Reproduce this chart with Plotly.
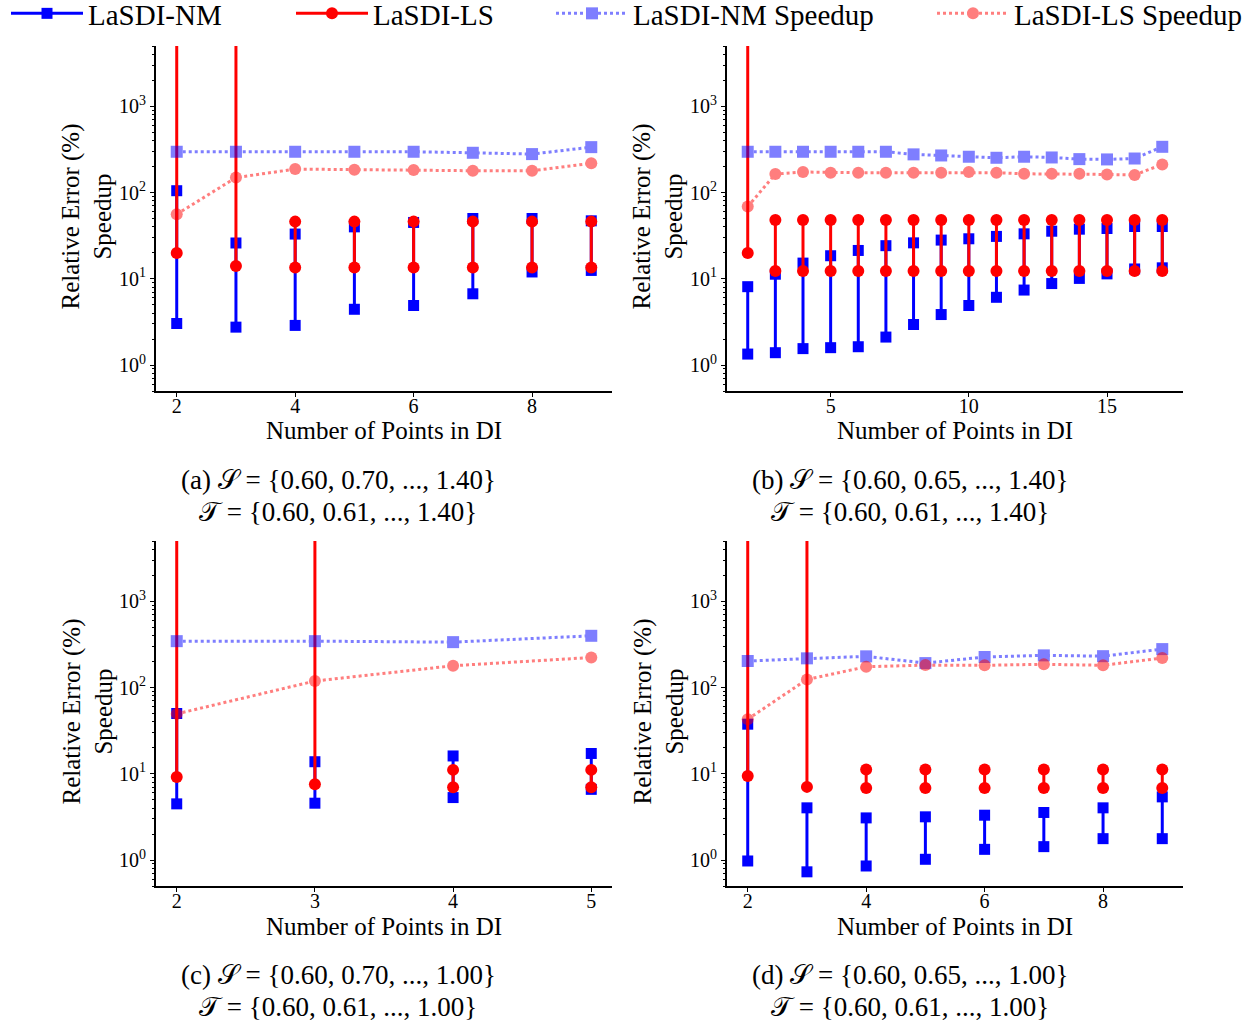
import plotly.graph_objects as go

# ---------------- data ----------------
# Panel (a)
a_x = [2, 3, 4, 5, 6, 7, 8, 9]
a_nm_lo = [3.03, 2.75, 2.88, 4.43, 4.9, 6.7, 12.0, 12.5]
a_nm_hi = [105, 26, 33, 40, 45, 50, 50, 47]
a_ls_lo = [19.9, 14.1, 13.5, 13.5, 13.5, 13.5, 13.5, 13.5]
a_ls_hi = [1e6, 1e6, 46, 46, 46, 46, 46, 46]
a_nm_sp = [297, 297, 297, 297, 297, 289, 279, 336]
a_ls_sp = [56, 149, 187, 184, 182, 179, 179, 218]

# Panel (b)
b_x = list(range(2, 18))
b_nm_lo = [1.34, 1.39, 1.55, 1.59, 1.63, 2.11, 2.95, 3.85, 4.9, 6.1, 7.4, 8.8, 10.1, 11.4, 13.0, 13.4]
b_nm_hi = [8.1, 11.3, 15.2, 18.5, 21.3, 24.2, 26.1, 28.1, 29.1, 31.0, 33.2, 35.6, 37.6, 38.3, 40.4, 40.4]
b_ls_lo = [19.9] + [12.3] * 15
b_ls_hi = [1e6] + [48] * 15
b_nm_sp = [297, 297, 297, 297, 297, 297, 277, 269, 260, 253, 260, 255, 244, 242, 248, 339]
b_ls_sp = [68.7, 164, 173, 170, 170, 170, 170, 170, 173, 170, 165, 165, 165, 162, 160, 212]

# Panel (c)
c_x = [2, 3, 4, 5]
c_nm_lo = [4.48, 4.56, 5.3, 6.6]
c_nm_hi = [50, 13.8, 16.1, 17.2]
c_ls_lo = [9.2, 7.55, 7.0, 7.0]
c_ls_hi = [1e6, 1e6, 11.1, 11.1]
c_nm_sp = [345, 345, 336, 398]
c_ls_sp = [49.5, 119, 179, 223]

# Panel (d)
d_x = [2, 3, 4, 5, 6, 7, 8, 9]
d_nm_lo = [0.975, 0.73, 0.853, 1.02, 1.33, 1.43, 1.77, 1.77]
d_nm_hi = [37.6, 4.03, 3.08, 3.17, 3.31, 3.56, 4.03, 5.4]
d_ls_lo = [9.44, 7.05, 6.86, 6.86, 6.86, 6.86, 6.86, 6.86]
d_ls_hi = [1e6, 1e6, 11.2, 11.2, 11.2, 11.2, 11.2, 11.2]
d_nm_sp = [203, 218, 230, 192, 226, 236, 231, 279]
d_ls_sp = [43, 124, 174, 182, 181, 186, 181, 220]

x_ticks = [[2, 4, 6, 8], [5, 10, 15], [2, 3, 4, 5], [2, 4, 6, 8]]
y_tickvals = [1, 10, 100, 1000]
y_ticktext = ["10<sup>0</sup>", "10<sup>1</sup>", "10<sup>2</sup>", "10<sup>3</sup>"]
captions = [
    ("(a) 𝒮 = {0.60, 0.70, ..., 1.40}", "𝒯 = {0.60, 0.61, ..., 1.40}"),
    ("(b) 𝒮 = {0.60, 0.65, ..., 1.40}", "𝒯 = {0.60, 0.61, ..., 1.40}"),
    ("(c) 𝒮 = {0.60, 0.70, ..., 1.00}", "𝒯 = {0.60, 0.61, ..., 1.00}"),
    ("(d) 𝒮 = {0.60, 0.65, ..., 1.00}", "𝒯 = {0.60, 0.61, ..., 1.00}"),
]
legend_names = ["LaSDI-NM", "LaSDI-LS", "LaSDI-NM Speedup", "LaSDI-LS Speedup"]

panels = [
    (a_x, a_nm_lo, a_nm_hi, a_ls_lo, a_ls_hi, a_nm_sp, a_ls_sp),
    (b_x, b_nm_lo, b_nm_hi, b_ls_lo, b_ls_hi, b_nm_sp, b_ls_sp),
    (c_x, c_nm_lo, c_nm_hi, c_ls_lo, c_ls_hi, c_nm_sp, c_ls_sp),
    (d_x, d_nm_lo, d_nm_hi, d_ls_lo, d_ls_hi, d_nm_sp, d_ls_sp),
]

# ---------------- layout geometry (pixels) ----------------
W, H = 1260, 1025
FONT = "Liberation Serif"
BLUE = "#0000ff"
RED = "#ff0000"

# left, right, top, bottom of each plot area
boxes = [(156, 612, 46, 391), (727, 1183, 46, 391),
         (156, 612, 541, 886), (727, 1183, 541, 886)]
cap_x = [338, 910, 338, 910]
legend_x = [6, 291, 551, 932]
legend_ids = ["legend", "legend2", "legend3", "legend4"]


def px(xp):
    return xp / W


def py(yp):
    return 1 - yp / H


def segments(xs, lo, hi):
    sx, sy = [], []
    for xv, l, h in zip(xs, lo, hi):
        sx += [xv, xv, None]
        sy += [l, h, None]
    return sx, sy


fig = go.Figure()

for i, (xs, nlo, nhi, llo, lhi, nsp, lsp) in enumerate(panels):
    k = "" if i == 0 else str(i + 1)
    xa, ya = "x" + k, "y" + k
    show = i == 0
    sx, sy = segments(xs, nlo, nhi)
    fig.add_trace(go.Scatter(x=sx, y=sy, mode="lines+markers", name=legend_names[0],
                             legendgroup="nm", showlegend=show, legend=legend_ids[0],
                             line=dict(color=BLUE, width=3),
                             marker=dict(symbol="square", size=11, color=BLUE),
                             xaxis=xa, yaxis=ya))
    sx, sy = segments(xs, llo, lhi)
    fig.add_trace(go.Scatter(x=sx, y=sy, mode="lines+markers", name=legend_names[1],
                             legendgroup="ls", showlegend=show, legend=legend_ids[1],
                             line=dict(color=RED, width=3),
                             marker=dict(symbol="circle", size=12, color=RED),
                             xaxis=xa, yaxis=ya))
    fig.add_trace(go.Scatter(x=xs, y=nsp, mode="lines+markers", name=legend_names[2],
                             legendgroup="nms", showlegend=show, opacity=0.5,
                             legend=legend_ids[2],
                             line=dict(color=BLUE, width=3, dash="dot"),
                             marker=dict(symbol="square", size=12, color=BLUE),
                             xaxis=xa, yaxis=ya))
    fig.add_trace(go.Scatter(x=xs, y=lsp, mode="lines+markers", name=legend_names[3],
                             legendgroup="lss", showlegend=show, opacity=0.5,
                             legend=legend_ids[3],
                             line=dict(color=RED, width=3, dash="dot"),
                             marker=dict(symbol="circle", size=12, color=RED),
                             xaxis=xa, yaxis=ya))

    l, r, t, b = boxes[i]
    xmin, xmax = min(xs), max(xs)
    pad = 0.05 * (xmax - xmin)
    axis_common = dict(showline=True, linecolor="black", linewidth=2, mirror=False,
                       showgrid=False, zeroline=False, ticks="outside", ticklen=4,
                       tickwidth=1.2, tickcolor="black",
                       tickfont=dict(family=FONT, size=20, color="black"))
    fig.update_layout(**{
        "xaxis" + k: dict(domain=[px(l), px(r)], range=[xmin - pad, xmax + pad],
                          tickvals=x_ticks[i], anchor=ya, ticklabelstandoff=-8,
                          automargin=False, **axis_common),
        "yaxis" + k: dict(domain=[py(b), py(t)], type="log", range=[-0.30103, 3.69897],
                          tickvals=y_tickvals, ticktext=y_ticktext, anchor=xa,
                          automargin=False,
                          minor=dict(ticks="outside", ticklen=2.5, tickcolor="black",
                                     tickvals=[v * m for v in [0.1, 1, 10, 100, 1000]
                                               for m in range(2, 10)]),
                          **axis_common),
    })

    # axis titles
    fig.add_annotation(x=px((l + r) / 2), y=py(b + 40), xref="paper", yref="paper",
                       xanchor="center", yanchor="middle",
                       text="Number of Points in DI", showarrow=False,
                       font=dict(family=FONT, size=25, color="black"))
    fig.add_annotation(x=px(l - 69), y=py((t + b) / 2 - 2), xref="paper", yref="paper",
                       xanchor="center", yanchor="middle",
                       text="Relative Error (%)<br>Speedup", showarrow=False, textangle=-90,
                       font=dict(family=FONT, size=25, color="black"))
    # captions
    fig.add_annotation(x=px(cap_x[i]), y=py(b + 89), xref="paper", yref="paper",
                       xanchor="center", yanchor="middle",
                       text=captions[i][0], showarrow=False,
                       font=dict(family=FONT, size=27, color="black"))
    fig.add_annotation(x=px(cap_x[i]), y=py(b + 121), xref="paper", yref="paper",
                       xanchor="center", yanchor="middle",
                       text=captions[i][1], showarrow=False,
                       font=dict(family=FONT, size=27, color="black"))

legend_common = dict(orientation="h", y=1.0 + 12 / H, xanchor="left",
                     yanchor="top", font=dict(family=FONT, size=29, color="black"),
                     itemwidth=72, bgcolor="rgba(0,0,0,0)")
fig.update_layout(
    width=W, height=H,
    margin=dict(l=0, r=0, t=0, b=0, pad=0, autoexpand=False),
    paper_bgcolor="white", plot_bgcolor="white",
    font=dict(family=FONT, color="black"),
    legend=dict(x=px(legend_x[0]), **legend_common),
    legend2=dict(x=px(legend_x[1]), **legend_common),
    legend3=dict(x=px(legend_x[2]), **legend_common),
    legend4=dict(x=px(legend_x[3]), **legend_common),
)

fig.write_html("out.html")
